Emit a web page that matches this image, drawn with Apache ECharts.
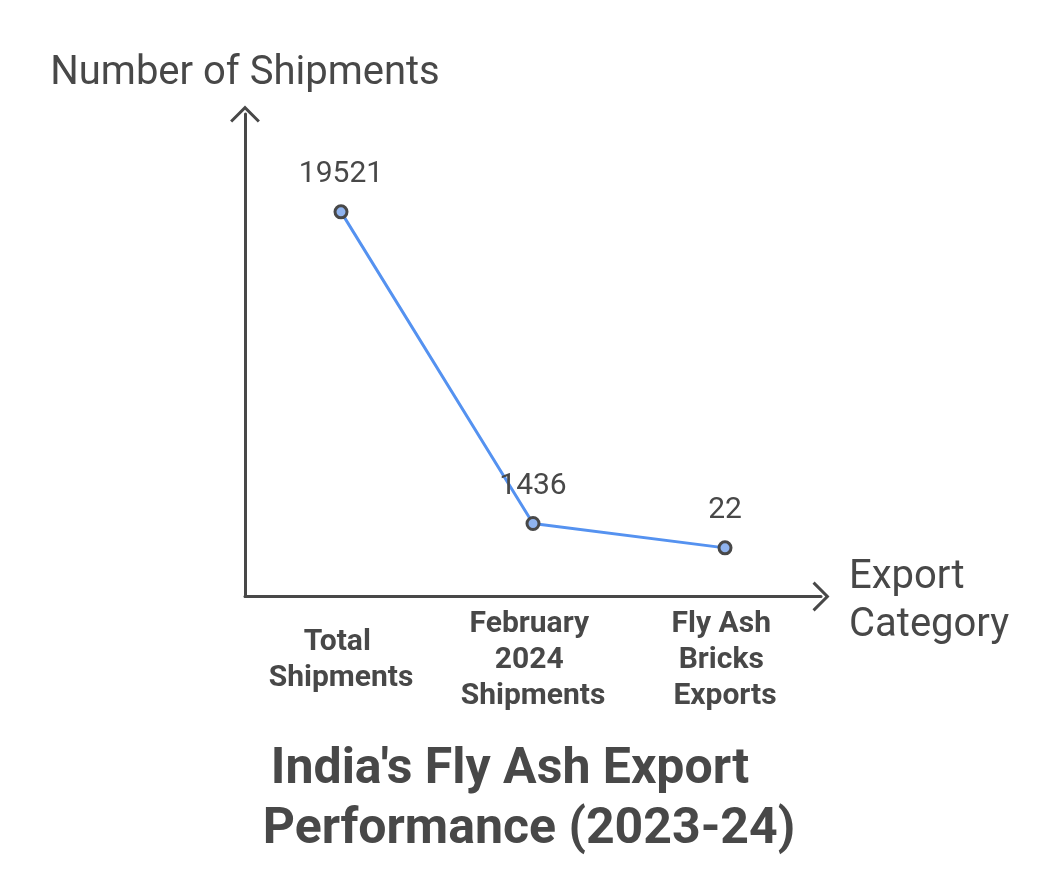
<!DOCTYPE html>
<html>
<head>
<meta charset="utf-8">
<script src="https://cdn.jsdelivr.net/npm/echarts@6/dist/echarts.min.js"></script>
<style>
  html, body { margin: 0; padding: 0; background: #fff; }
  #chart { width: 1062px; height: 895px; }
</style>
</head>
<body>
<div id="chart"></div>
<script>
// data
var categories = ["Total Shipments", "February 2024 Shipments", "Fly Ash Bricks Exports"];
var shipments = [19521, 1436, 22];
var titleLines = ["India's Fly Ash Export", "Performance (2023-24)"];

var ink = "#484848",
    font = "Roboto",
    // open chevron for the axis ends, tip pointing up
    chevron = "path://M15,0 L30,15 L27.9,17.1 L15,4.2 L2.1,17.1 L0,15 Z";

var chart = echarts.init(document.getElementById("chart"), null, { renderer: "canvas" });

chart.setOption({
    animation: false,
    backgroundColor: "#fff",
    textStyle: { fontFamily: font, color: ink },
    title: [{
        text: titleLines[0],
        left: 510,
        top: 770,
        padding: 0,
        textAlign: "center",
        textVerticalAlign: "middle",
        textStyle: { fontFamily: font, fontSize: 50, fontWeight: "bold", color: ink }
    }, {
        text: titleLines[1],
        left: 529,
        top: 830,
        padding: 0,
        textAlign: "center",
        textVerticalAlign: "middle",
        textStyle: { fontFamily: font, fontSize: 50, fontWeight: "bold", color: ink }
    }],
    grid: { left: 245, right: 241, top: 114, bottom: 298.5, containLabel: false },
    xAxis: {
        type: "category",
        data: categories,
        boundaryGap: true,
        name: "{e|Export}\n{c|Category}",
        nameLocation: "end",
        nameGap: 28,
        nameTextStyle: {
            fontFamily: font, fontSize: 40, color: ink, lineHeight: 48,
            align: "left", verticalAlign: "middle",
            rich: {
                e: { fontFamily: font, fontSize: 40, color: ink, lineHeight: 48, padding: [10, 0, 0, 0] },
                c: { fontFamily: font, fontSize: 40, color: ink, lineHeight: 48, padding: [10, 0, 0, 0] }
            }
        },
        axisLine: {
            onZero: false,
            symbol: ["none", chevron],
            symbolSize: [30, 17],
            lineStyle: { color: ink, width: 3 }
        },
        axisTick: { show: false },
        axisLabel: {
            interval: 0,
            margin: 64,
            verticalAlign: "middle",
            width: 175,
            overflow: "break",
            fontFamily: font,
            fontSize: 30,
            fontWeight: "bold",
            lineHeight: 36,
            color: ink
        },
        splitLine: { show: false }
    },
    yAxis: {
        type: "value",
        min: -2800,
        max: 25200,
        name: "Number of Shipments",
        nameLocation: "end",
        nameGap: 20,
        nameTextStyle: { fontFamily: font, fontSize: 40, color: ink, align: "center" },
        axisLine: {
            show: true,
            symbol: ["none", chevron],
            symbolSize: [30, 17],
            lineStyle: { color: ink, width: 3 }
        },
        axisTick: { show: false },
        axisLabel: { show: false },
        splitLine: { show: false }
    },
    series: [{
        type: "line",
        data: shipments,
        symbol: "circle",
        symbolSize: 12,
        showAllSymbol: true,
        lineStyle: { color: "#5592f0", width: 3 },
        itemStyle: { color: "#8fb3ee", borderColor: ink, borderWidth: 3 },
        label: {
            show: true,
            position: "top",
            distance: 15,
            fontFamily: font,
            fontSize: 30,
            color: ink
        },
        emphasis: { disabled: true }
    }]
});
</script>
</body>
</html>
